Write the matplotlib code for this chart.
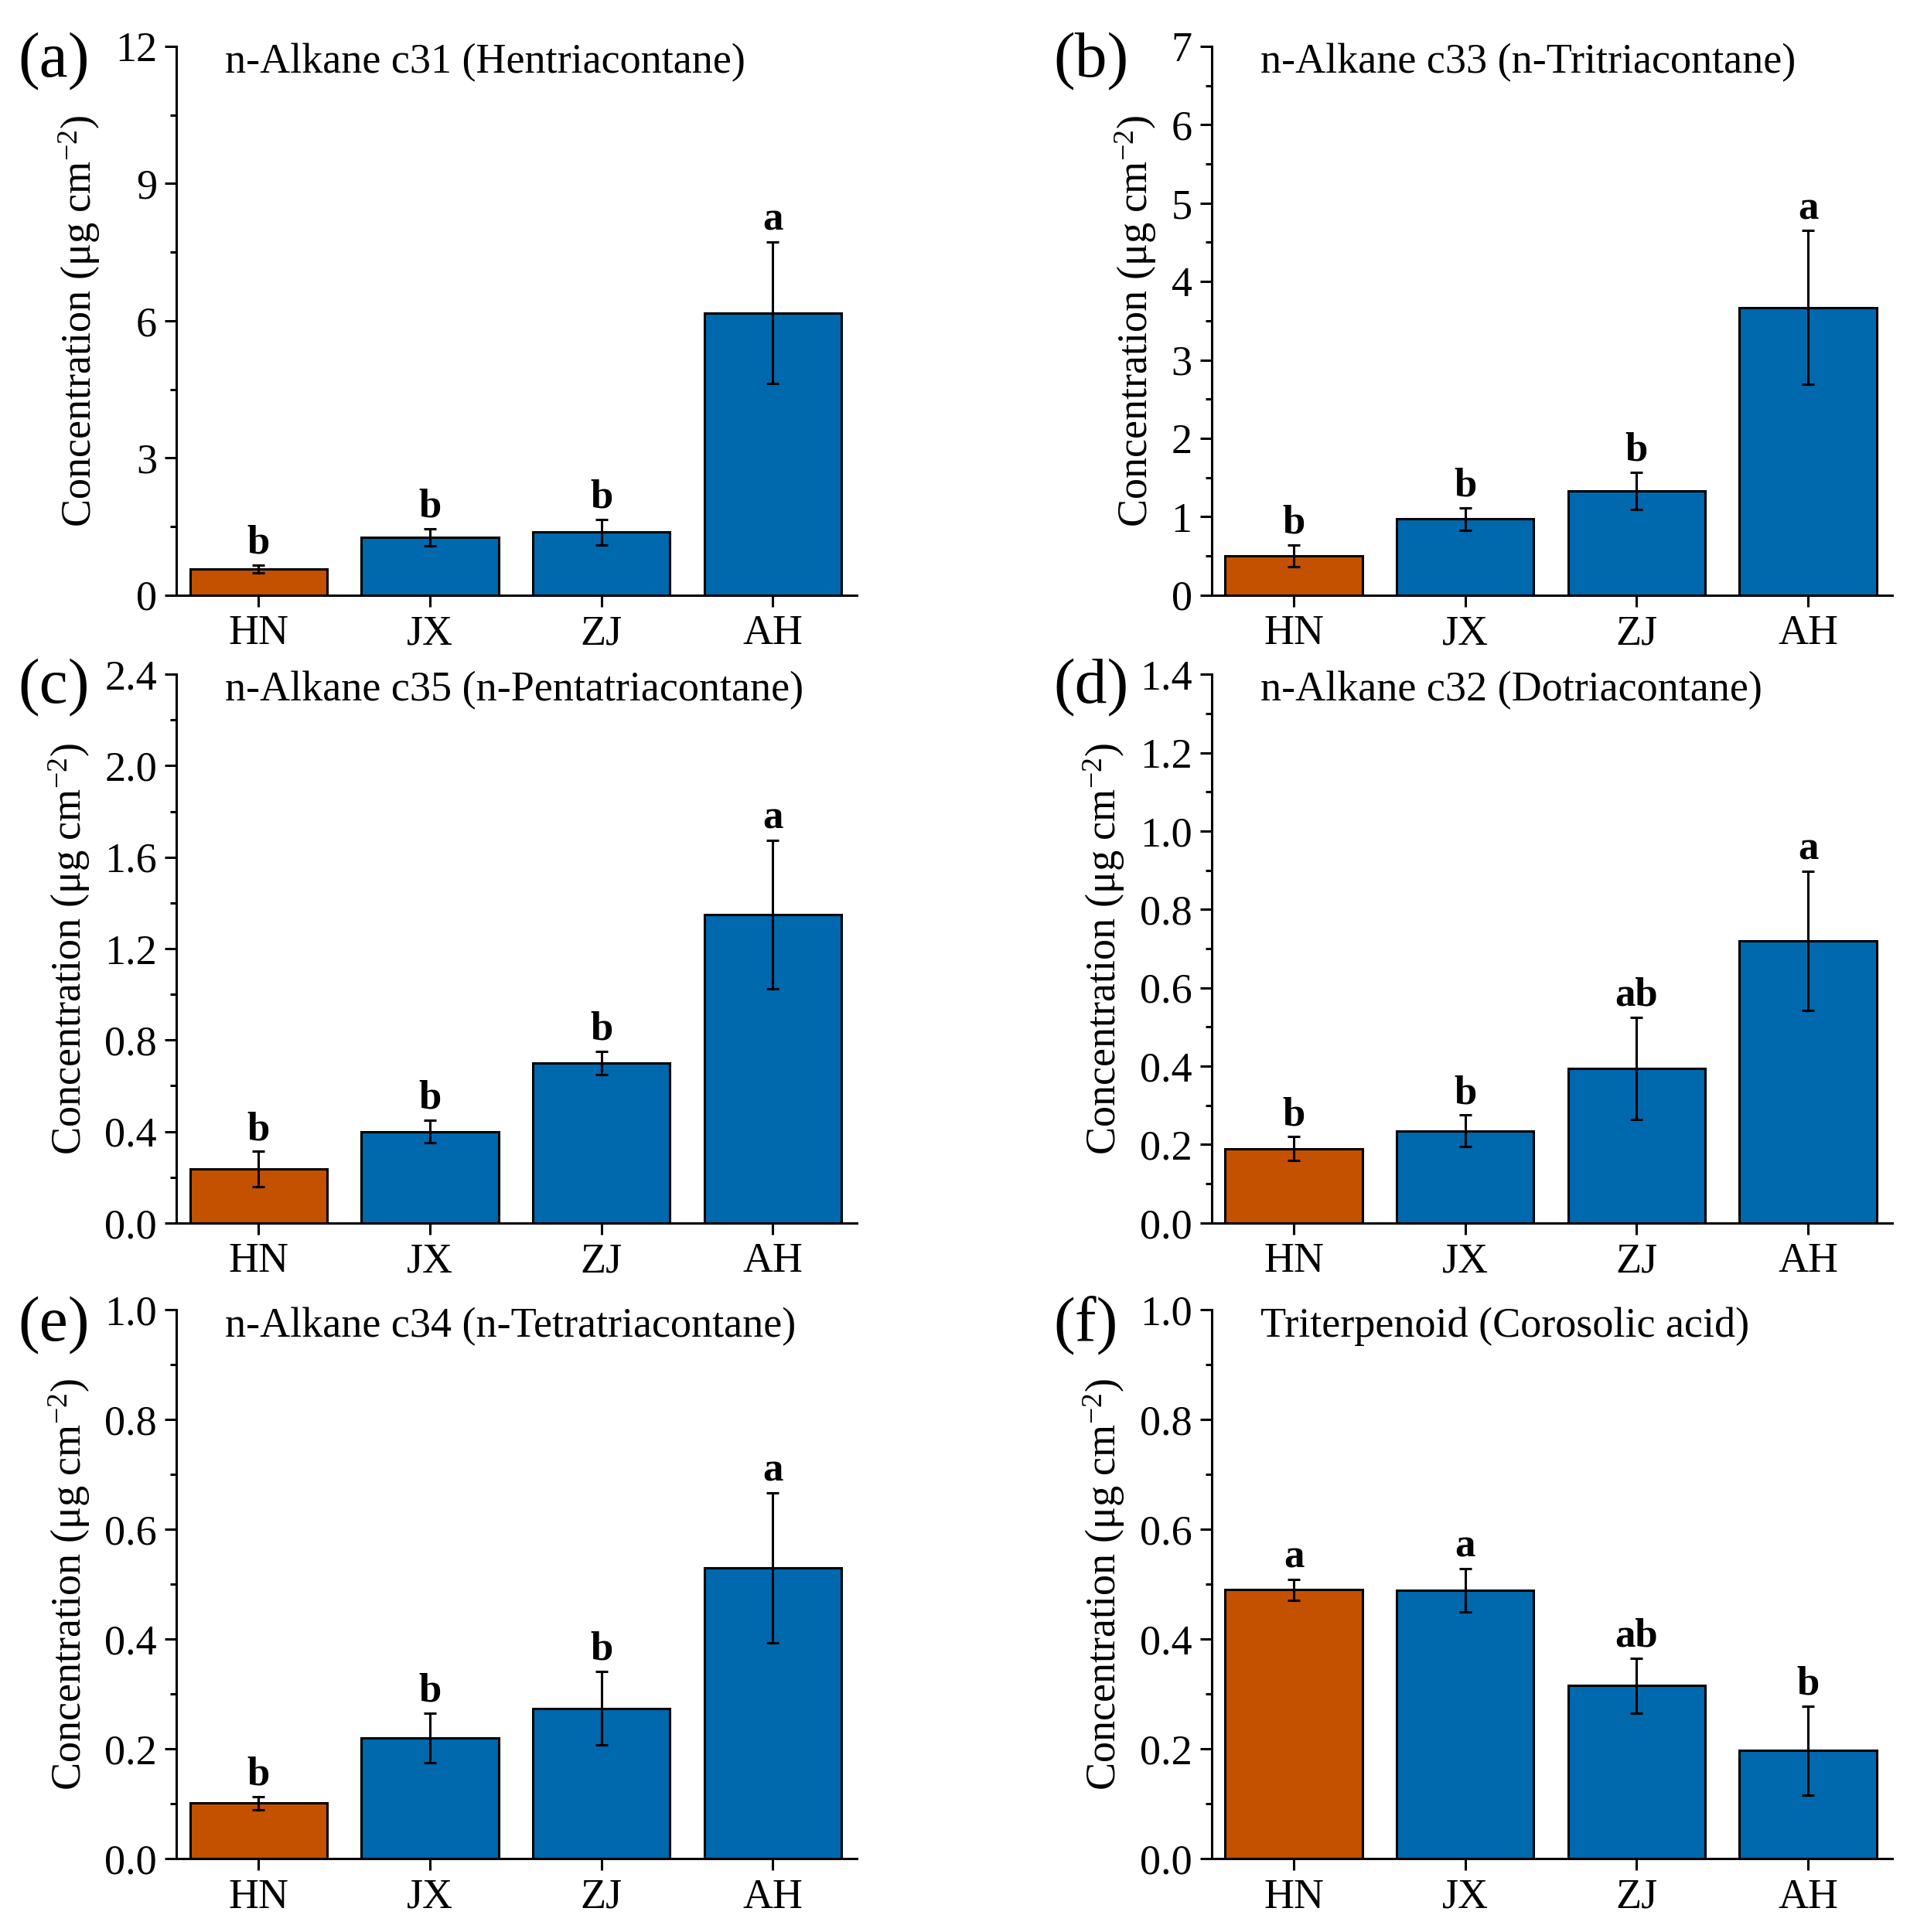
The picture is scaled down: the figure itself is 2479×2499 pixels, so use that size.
import matplotlib
matplotlib.use('Agg')
import matplotlib.pyplot as plt
from matplotlib.ticker import MultipleLocator, AutoMinorLocator

plt.rcParams['font.family'] = ['Liberation Serif', 'DejaVu Serif']
plt.rcParams['mathtext.fontset'] = 'custom'
plt.rcParams['mathtext.rm'] = 'Liberation Serif'
plt.rcParams['mathtext.it'] = 'Liberation Serif:italic'

sites = ['HN', 'JX', 'ZJ', 'AH']

# values
c31_mean = [0.57, 1.26, 1.38, 6.17]
c31_err = [0.09, 0.19, 0.28, 1.55]
c31_sig = ['b', 'b', 'b', 'a']

c33_mean = [0.50, 0.97, 1.33, 3.67]
c33_err = [0.14, 0.14, 0.24, 0.98]
c33_sig = ['b', 'b', 'b', 'a']

c35_mean = [0.235, 0.40, 0.70, 1.35]
c35_err = [0.078, 0.05, 0.05, 0.325]
c35_sig = ['b', 'b', 'b', 'a']

c32_mean = [0.19, 0.235, 0.395, 0.72]
c32_err = [0.03, 0.04, 0.13, 0.177]
c32_sig = ['b', 'b', 'ab', 'a']

c34_mean = [0.101, 0.22, 0.274, 0.53]
c34_err = [0.012, 0.045, 0.067, 0.137]
c34_sig = ['b', 'b', 'b', 'a']

cor_mean = [0.49, 0.489, 0.315, 0.197]
cor_err = [0.019, 0.04, 0.05, 0.081]
cor_sig = ['a', 'a', 'ab', 'b']

titles = ['n-Alkane c31 (Hentriacontane)', 'n-Alkane c33 (n-Tritriacontane)',
          'n-Alkane c35 (n-Pentatriacontane)', 'n-Alkane c32 (Dotriacontane)',
          'n-Alkane c34 (n-Tetratriacontane)', 'Triterpenoid (Corosolic acid)']
panel_tags = ['(a)', '(b)', '(c)', '(d)', '(e)', '(f)']
means = [c31_mean, c33_mean, c35_mean, c32_mean, c34_mean, cor_mean]
errs = [c31_err, c33_err, c35_err, c32_err, c34_err, cor_err]
sigs = [c31_sig, c33_sig, c35_sig, c32_sig, c34_sig, cor_sig]
ymax = [12, 7, 2.4, 1.4, 1.0, 1.0]
ystep = [3, 1, 0.4, 0.2, 0.2, 0.2]
yfmt = ['%d', '%d', '%.1f', '%.1f', '%.1f', '%.1f']

colors = ['#C45100', '#0068AD', '#0068AD', '#0068AD']

fig = plt.figure(figsize=(24.79, 24.99), dpi=100)

lefts = [0.092, 0.632]
bottoms = [0.692, 0.367, 0.038]
w = 0.355
h = 0.284

for i in range(6):
    row, col = i // 2, i % 2
    ax = fig.add_axes([lefts[col], bottoms[row], w, h])
    x = range(len(sites))
    ax.bar(x, means[i], width=0.8, color=colors, edgecolor='black', linewidth=2.2, zorder=2)
    ax.errorbar(x, means[i], yerr=errs[i], fmt='none', ecolor='black',
                elinewidth=2.2, capsize=6, capthick=2.2, zorder=3)
    for xi, m, e, s in zip(x, means[i], errs[i], sigs[i]):
        ax.annotate(s, (xi, m + e), xytext=(0, 3), textcoords='offset points',
                    ha='center', va='bottom', fontsize=38, fontweight='bold')
    ax.set_xlim(-0.48, 3.49)
    ax.set_ylim(0, ymax[i])
    ax.yaxis.set_major_locator(MultipleLocator(ystep[i]))
    ax.yaxis.set_minor_locator(AutoMinorLocator(2))
    ax.yaxis.set_major_formatter(plt.FormatStrFormatter(yfmt[i]))
    ax.set_xticks(list(x))
    ax.set_xticklabels(sites)
    ax.spines['top'].set_visible(False)
    ax.spines['right'].set_visible(False)
    for sp in ['left', 'bottom']:
        ax.spines[sp].set_linewidth(2.2)
    ax.tick_params(axis='both', which='major', direction='out', length=11, width=2.2,
                   labelsize=39, pad=7)
    ax.tick_params(axis='y', which='minor', direction='out', length=5.5, width=2.2)
    ax.set_ylabel('Concentration (μg cm$^{-2}$)', fontsize=39, labelpad=12)
    ax.text(0.072, 0.97, titles[i], transform=ax.transAxes, fontsize=39,
            ha='left', va='center')
    fig.text(0.0095 + col * 0.54, [0.968, 0.644, 0.314][row], panel_tags[i],
             fontsize=60, ha='left', va='center')

fig.savefig('out.png', dpi=100)
